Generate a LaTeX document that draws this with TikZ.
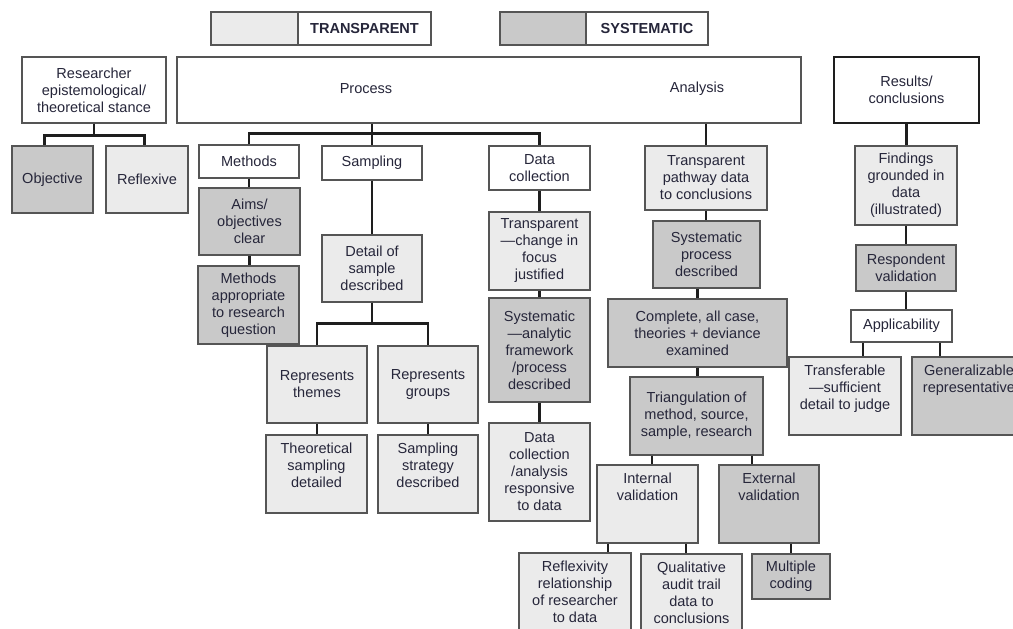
\documentclass[tikz,border=0pt]{standalone}
\usepackage{fontspec}
\setmainfont{Liberation Sans}
\usetikzlibrary{calc}

\begin{document}
\begin{tikzpicture}[x=0.75pt,y=-0.75pt,
    font=\fontsize{10.9}{12.75}\selectfont,
    sz/.style 2 args={minimum width=#1*0.75pt,minimum height=#2*0.75pt},
    box/.style={draw=edgec,line width=1pt,inner sep=0pt,align=center,text=txtc},
    plain/.style={box,fill=white},
    lite/.style={box,fill=litec},
    dark/.style={box,fill=darkc},
    toptext/.style={label={[anchor=north,align=center,inner sep=6pt,text=txtc]north:#1}},
    link/.style={line width=1.9pt,draw=linkc}]
    \definecolor{litec}{HTML}{EBEBEB}
    \definecolor{darkc}{HTML}{C9C9C9}
    \definecolor{edgec}{HTML}{555555}
    \definecolor{linkc}{HTML}{1E1E1E}
    \definecolor{txtc}{HTML}{26263A}
    \useasboundingbox (0,0) rectangle (1013,628);
    \node[lite,sz={87}{33}] (lgt) at (254.5,28.5) {};
    \node[plain,sz={133}{33},font=\fontsize{10.9}{12.75}\selectfont\bfseries] (lgttxt) at (364.5,28.5) {TRANSPARENT};
    \node[dark,sz={86}{33}] (lgs) at (543,28.5) {};
    \node[plain,sz={122}{33},font=\fontsize{10.9}{12.75}\selectfont\bfseries] (lgstxt) at (647,28.5) {SYSTEMATIC};
    \node[plain,sz={144}{66}] (res) at (94,90) {Researcher\\epistemological/\\theoretical stance};
    \node[plain,sz={624}{66}] (pa) at (489,90) {};
    \node[text=txtc] (prc) at (366,89) {Process};
    \node[text=txtc] (ana) at (697,89) {Analysis};
    \node[plain,sz={145}{66},line width=2pt,draw=linkc] (rc) at (906.5,90) {Results/\\conclusions};
    \node[dark,sz={81}{67}] (obj) at (52.5,179.5) {Objective};
    \node[lite,sz={82}{67}] (rfx) at (147,179.5) {Reflexive};
    \node[plain,sz={100}{33}] (meth) at (249,161.5) {Methods};
    \node[dark,sz={101}{67}] (aims) at (249.5,221.5) {Aims/\\objectives\\clear};
    \node[dark,sz={101}{78}] (mapp) at (248.5,305) {Methods\\appropriate\\to research\\question};
    \node[plain,sz={100}{34}] (smp) at (372,163) {Sampling};
    \node[lite,sz={100}{67}] (det) at (372,268.5) {Detail of\\sample\\described};
    \node[lite,sz={100}{77}] (thm) at (317,384.5) {Represents\\themes};
    \node[lite,sz={100}{77}] (grp) at (428,384.5) {Represents\\groups};
    \node[lite,sz={101}{78},toptext={Theoretical\\sampling\\detailed}] (theo) at (316.5,474) {};
    \node[lite,sz={100}{78},toptext={Sampling\\strategy\\described}] (strat) at (428,474) {};
    \node[plain,sz={101}{44}] (dcol) at (539.5,168) {Data\\collection};
    \node[lite,sz={101}{78}] (tcf) at (539.5,251) {Transparent\\—change in\\focus\\justified};
    \node[dark,sz={101}{104}] (sysf) at (539.5,350) {Systematic\\—analytic\\framework\\/process\\described};
    \node[lite,sz={101}{98}] (drsp) at (539.5,472) {Data\\collection\\/analysis\\responsive\\to data};
    \node[lite,sz={122}{64}] (tpw) at (706,178) {Transparent\\pathway data\\to conclusions};
    \node[dark,sz={107}{67}] (sysp) at (706.5,254.5) {Systematic\\process\\described};
    \node[dark,sz={179}{68}] (cmp) at (697.5,333) {Complete, all case,\\theories + deviance\\examined};
    \node[dark,sz={133}{78}] (tri) at (696.5,416) {Triangulation of\\method, source,\\sample, research};
    \node[lite,sz={101}{78},toptext={Internal\\validation}] (intv) at (647.5,504) {};
    \node[dark,sz={100}{78},toptext={External\\validation}] (extv) at (769,504) {};
    \node[lite,sz={112}{87},toptext={Reflexivity\\relationship\\of researcher\\to data}] (rflx) at (575,596.5) {};
    \node[lite,sz={101}{86},toptext={Qualitative\\audit trail\\data to\\conclusions}] (qat) at (691.5,597) {};
    \node[dark,sz={78}{45}] (mc) at (791,576.5) {Multiple\\coding};
    \node[lite,sz={102}{79}] (fnd) at (906,185.5) {Findings\\grounded in\\data\\(illustrated)};
    \node[dark,sz={100}{46}] (rsp) at (906,268) {Respondent\\validation};
    \node[plain,sz={101}{32}] (app) at (901.5,326) {Applicability};
    \node[lite,sz={112}{78},toptext={Transferable\\—sufficient\\detail to judge}] (trf) at (845,396) {};
    \node[dark,sz={114}{78},toptext={Generalizable\\representative}] (gen) at (969,396) {};
    \draw[link] (res.south) -- ++(0,12) -| ([xshift=-6pt]obj.north);
    \draw[link] (res.south) -- ++(0,12) -| ([xshift=-2pt]rfx.north);
    \draw[link] (pa.south -| smp.north) -- (smp.north);
    \draw[link] (meth.north) -- ++(0,-11) -| (dcol.north);
    \draw[link] (pa.south -| tpw.north) -- (tpw.north);
    \draw[link] (det.south) -- ++(0,21) -| (thm.north);
    \draw[link] (det.south) -- ++(0,21) -| (grp.north);
    \foreach \a/\b in {meth/aims,aims/mapp,smp/det,thm/theo,grp/strat,dcol/tcf,tcf/sysf,sysf/drsp,tpw/sysp,cmp/tri,rc/fnd,fnd/rsp,rsp/app}
        \draw[link] (\a.south) -- (\a.south |- \b.north);
    \draw[link] (cmp.north |- sysp.south) -- (cmp.north);
    \draw[link] (mc.north |- extv.south) -- (mc.north);
    \foreach \p/\s/\c in {tri/-33.4/intv,tri/41.6/extv,intv/-29.6/rflx,intv/28.9/qat,app/-28.9/trf,app/28.9/gen}
        \draw[link] ([xshift=\s pt]\p.south) -- ([xshift=\s pt]\p.south |- \c.north);
\end{tikzpicture}
\end{document}
